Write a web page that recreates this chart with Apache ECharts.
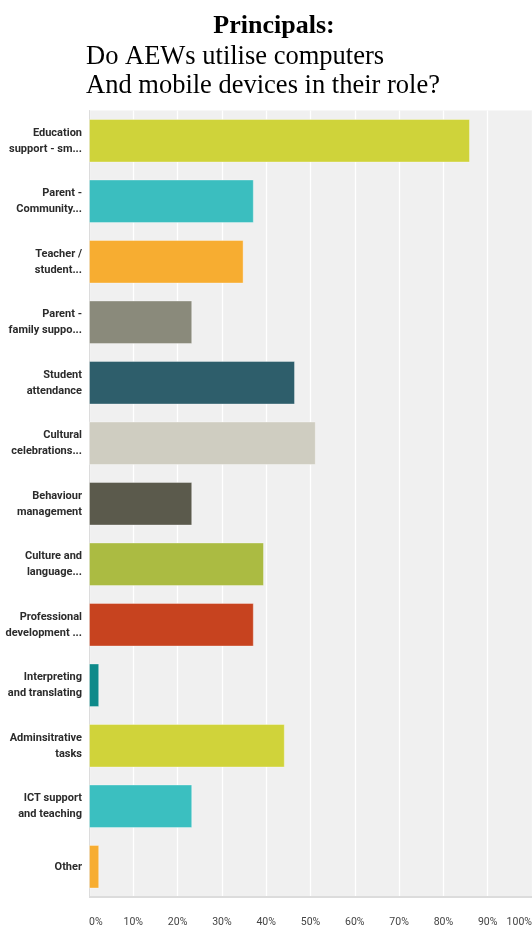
<!DOCTYPE html>
<html>
<head>
<meta charset="utf-8">
<script src="https://cdn.jsdelivr.net/npm/echarts@6/dist/echarts.min.js"></script>
<style>
html,body{margin:0;padding:0;background:#fff;}
#c{width:532px;height:927px;}
</style>
</head>
<body>
<div id="c"></div>
<script>
const categories = [
  'Education\nsupport - sm...',
  'Parent -\nCommunity...',
  'Teacher /\nstudent...',
  'Parent -\nfamily suppo...',
  'Student\nattendance',
  'Cultural\ncelebrations...',
  'Behaviour\nmanagement',
  'Culture and\nlanguage...',
  'Professional\ndevelopment ...',
  'Interpreting\nand translating',
  'Adminsitrative\ntasks',
  'ICT support\nand teaching',
  'Other'
];
const values = [86.0, 37.2, 34.9, 23.3, 46.5, 51.2, 23.3, 39.5, 37.2, 2.3, 44.2, 23.3, 2.3];
const colors = ['#cfd33a', '#3bbebf', '#f7ad31', '#8a8a7b', '#2e5e6b', '#cfcdc1', '#5b5a4c',
                '#abbb42', '#c7431f', '#0e8a8a', '#d0d33a', '#3bbfc0', '#f7ad31'];
const tickLabels = ['0%', '10%', '20%', '30%', '40%', '50%', '60%', '70%', '80%', '90%', '100%'];

const chart = echarts.init(document.getElementById('c'));
chart.setOption({
  animation: false,
  backgroundColor: '#fff',
  title: [
    {
      text: 'Principals:',
      left: 274, top: 13, textAlign: 'center', padding: 0,
      textStyle: {fontFamily: 'Liberation Serif', fontWeight: 'bold', fontSize: 26, color: '#000'}
    },
    {
      text: 'Do AEWs utilise computers\nAnd mobile devices in their role?',
      left: 86, top: 42, padding: 0,
      textStyle: {fontFamily: 'Liberation Serif', fontWeight: 'normal', fontSize: 26.5, lineHeight: 29.5, color: '#000'}
    }
  ],
  grid: {
    left: 89, right: 0, top: 110.5, bottom: 30,
    outerBoundsMode: 'none', containLabel: false,
    show: true, backgroundColor: '#f0f0f0', borderWidth: 0
  },
  xAxis: {
    type: 'value', min: 0, max: 100, interval: 10,
    axisLine: {show: false},
    axisTick: {show: false},
    splitLine: {show: true, lineStyle: {color: '#ffffff', width: 1.3}},
    axisLabel: {
      margin: 20, color: '#444', fontSize: 10.5, fontFamily: 'Roboto, sans-serif',
      alignMinLabel: 'left', alignMaxLabel: 'right',
      formatter: (v) => tickLabels[Math.round(v / 10)]
    }
  },
  yAxis: {
    type: 'category', data: categories, inverse: true,
    axisLine: {show: true, lineStyle: {color: '#dcdcdc', width: 1}},
    axisTick: {show: false},
    axisLabel: {
      margin: 7, color: '#2b2b2b', fontSize: 11, fontWeight: 'bold', lineHeight: 16,
      fontFamily: 'Roboto, sans-serif', align: 'right'
    }
  },
  series: [{
    type: 'bar',
    barCategoryGap: '28%',
    data: values.map((v, i) => ({value: v, itemStyle: {color: colors[i]}})),
    itemStyle: {borderColor: 'rgba(255,255,255,0.35)', borderWidth: 1},
    markLine: {
      silent: true, symbol: 'none', label: {show: false},
      lineStyle: {color: '#dcdcdc', type: 'solid', width: 2},
      data: [[{coord: [0, 12], y: 897}, {x: 532, y: 897}]]
    }
  }]
});
</script>
</body>
</html>
